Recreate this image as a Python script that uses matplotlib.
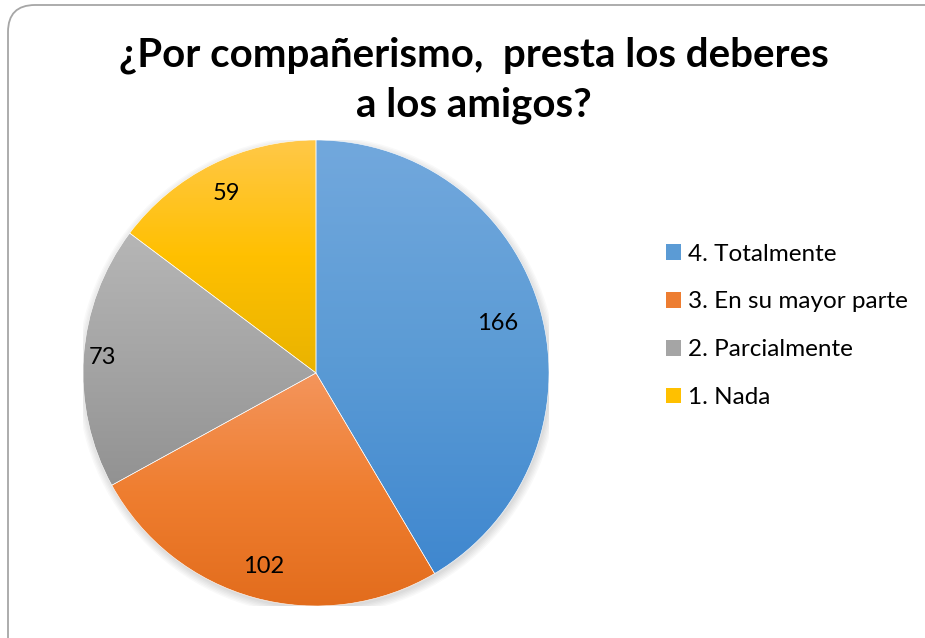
import numpy as np
import matplotlib.pyplot as plt
from matplotlib.colors import LinearSegmentedColormap
from matplotlib.patches import FancyBboxPatch, Patch

labels = ['4. Totalmente', '3. En su mayor parte', '2. Parcialmente', '1. Nada']
values = [166, 102, 73, 59]
grad_colors = [
    ['#3f87cf', '#5b9bd5', '#72a8dd'],
    ['#e26c1c', '#ef7e30', '#f4955c'],
    ['#929292', '#a5a5a5', '#b6b6b6'],
    ['#e9b300', '#ffc000', '#ffc848'],
]
legend_colors = ['#5b9bd5', '#ed7d31', '#a5a5a5', '#ffc000']
label_dist = [0.81, 0.86, 0.92, 0.86]  # colocacion tipo "best fit"

fig = plt.figure(figsize=(9.25, 6.38), dpi=100, facecolor='white')

# marco redondeado
frame = FancyBboxPatch((0.08, -0.5), 9.8, 6.83,
                       boxstyle='round,pad=0,rounding_size=0.27',
                       transform=fig.dpi_scale_trans,
                       facecolor='white', edgecolor='#a6a6a6', lw=1.3, zorder=-5)
fig.patches.append(frame)

ax = fig.add_axes([83 / 925, 32 / 638, 466 / 925, 466 / 638])
ax.set_zorder(1)
ax.patch.set_alpha(0)
wedges, texts = ax.pie(values, startangle=90, counterclock=False, radius=1,
                       labels=[str(v) for v in values], labeldistance=0.86,
                       textprops=dict(fontsize=17, family='Lato', color='black'),
                       wedgeprops=dict(linewidth=0.4, edgecolor='#ffffff'))

# sombra suave
for k in range(6):
    c = plt.Circle((0.005, -0.012), 1.0 + k * 0.006, color='black',
                   alpha=0.025, zorder=0, lw=0)
    ax.add_patch(c)

for w, cols in zip(wedges, grad_colors):
    verts = w.get_patch_transform().transform(w.get_path().vertices)
    x0, y0 = verts.min(axis=0)
    x1, y1 = verts.max(axis=0)
    cmap = LinearSegmentedColormap.from_list('g', cols)
    grad = np.linspace(0, 1, 256).reshape(-1, 1)
    im = ax.imshow(grad, cmap=cmap, extent=[x0, x1, y0, y1], origin='lower',
                   aspect='auto', zorder=1, interpolation='bicubic')
    im.set_clip_path(w)
    w.set_facecolor('none')
    w.set_zorder(2)

for t, w, d in zip(texts, wedges, label_dist):
    ang = np.deg2rad((w.theta1 + w.theta2) / 2)
    t.set_position((d * np.cos(ang), d * np.sin(ang)))
    t.set_zorder(3)
    t.set_ha('center')
    t.set_va('center')

ax.set_xlim(-1, 1)
ax.set_ylim(-1, 1)
ax.axis('off')

fig.text(474 / 925, 1 - 55 / 638, '¿Por compañerismo,  presta los deberes',
         ha='center', va='center', fontsize=29, fontweight='bold', family='Lato')
fig.text(474 / 925, 1 - 105 / 638, 'a los amigos?',
         ha='center', va='center', fontsize=29, fontweight='bold', family='Lato')

handles = [Patch(facecolor=c, edgecolor='none') for c in legend_colors]
fig.legend(handles, labels, loc='upper left', bbox_to_anchor=(656 / 925, 1 - 234 / 638),
           frameon=False, prop=dict(family='Lato', size=17.5),
           handlelength=0.62, handleheight=0.62, handletextpad=0.3,
           labelspacing=1.1, borderaxespad=0)

fig.savefig('out.png', dpi=100)
